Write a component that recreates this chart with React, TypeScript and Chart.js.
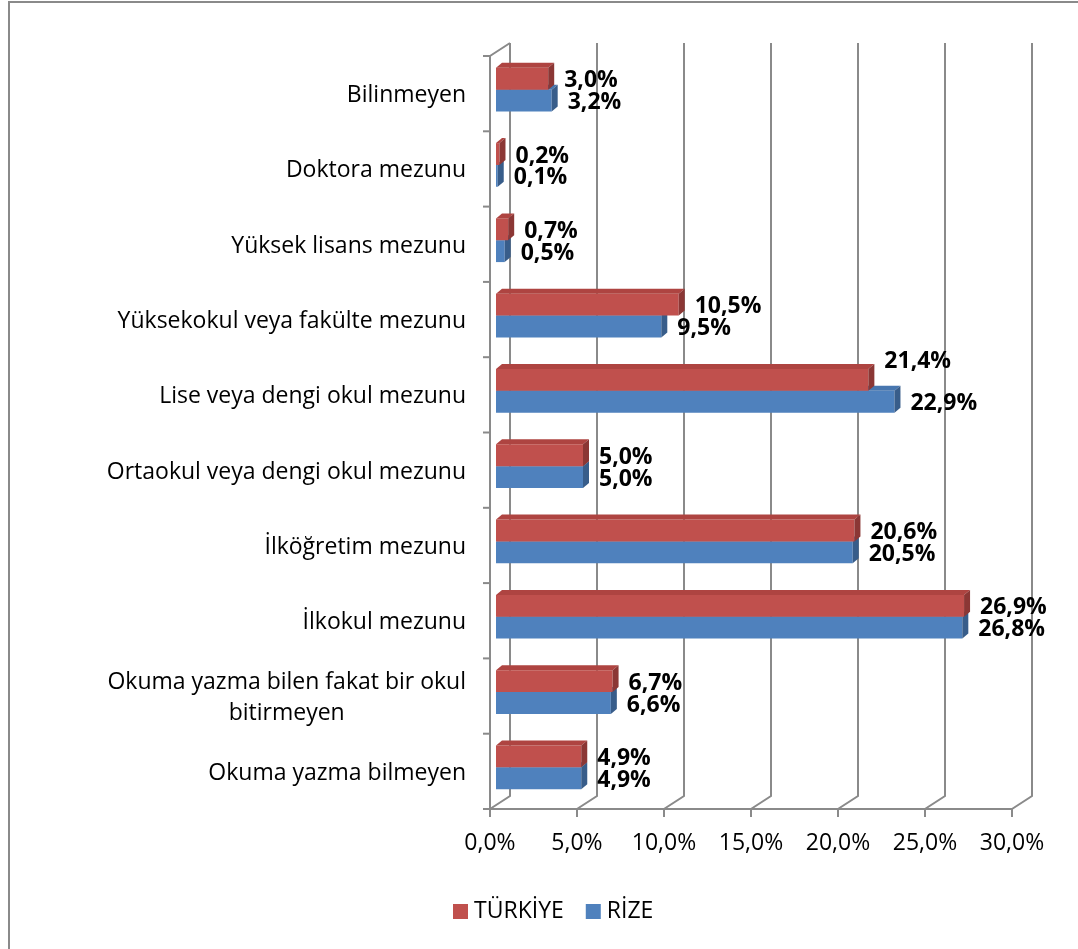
import React, { useEffect, useRef } from "react";
import { Chart, registerables } from "chart.js";

Chart.register(...registerables);

const categories: (string | string[])[] = [
  "Bilinmeyen",
  "Doktora mezunu",
  "Yüksek lisans mezunu",
  "Yüksekokul veya fakülte mezunu",
  "Lise veya dengi okul mezunu",
  "Ortaokul veya dengi okul mezunu",
  "İlköğretim mezunu",
  "İlkokul mezunu",
  ["Okuma yazma bilen fakat bir okul", "bitirmeyen"],
  "Okuma yazma bilmeyen",
];

const seriesNames = ["TÜRKİYE", "RİZE"];
const turkiyeValues = [3.0, 0.2, 0.7, 10.5, 21.4, 5.0, 20.6, 26.9, 6.7, 4.9];
const rizeValues = [3.2, 0.1, 0.5, 9.5, 22.9, 5.0, 20.5, 26.8, 6.6, 4.9];
const xTickValues = [0, 5, 10, 15, 20, 25, 30];

const W = 1078;
const H = 949;

const FRONT = { dx: -6, dy: 4 };
const BACK = { dx: 14, dy: -9 };
const FACE = { dx: 6, dy: -5 };

const COLORS = {
  red: { front: "#C0504D", top: "#AE4441", side: "#8B3735" },
  blue: { front: "#4F81BD", top: "#4776AF", side: "#385D8A" },
};
const faceColors = [COLORS.red, COLORS.blue];

const GRID = "#8a8a8a";
const FONT_REG = '23px "Open Sans"';
const FONT_BOLD = 'bold 23px "Open Sans"';
const FONT_LEGEND = '23px "Open Sans"';

const fmt = (v: number) => v.toFixed(1).replace(".", ",") + "%";

const decorPlugin = {
  id: "decor3d",
  beforeDatasetsDraw(chart: any) {
    const ctx = chart.ctx as CanvasRenderingContext2D;
    const { left: L, top: T, bottom: B } = chart.chartArea;
    const xs = chart.scales.x;
    const ys = chart.scales.y;
    ctx.save();
    // outer border (left and top)
    ctx.fillStyle = "#8a8a8a";
    ctx.fillRect(8, 1, 2, H);
    ctx.fillRect(8, 1, W - 8, 2);

    ctx.strokeStyle = GRID;
    ctx.lineWidth = 2;
    // back wall gridlines + floor diagonals + front ticks
    xTickValues.forEach((v) => {
      const px = xs.getPixelForValue(v);
      ctx.beginPath();
      ctx.moveTo(px + BACK.dx, T + BACK.dy);
      ctx.lineTo(px + BACK.dx, B + BACK.dy);
      ctx.lineTo(px + FRONT.dx, B + FRONT.dy);
      ctx.lineTo(px + FRONT.dx, B + FRONT.dy + 8);
      ctx.stroke();
    });
    // front x axis line
    ctx.beginPath();
    ctx.moveTo(xs.getPixelForValue(0) + FRONT.dx, B + FRONT.dy);
    ctx.lineTo(xs.getPixelForValue(30) + FRONT.dx, B + FRONT.dy);
    ctx.stroke();
    // left axis + top diagonal
    ctx.beginPath();
    ctx.moveTo(L + BACK.dx, T + BACK.dy);
    ctx.lineTo(L + FRONT.dx, T + FRONT.dy);
    ctx.lineTo(L + FRONT.dx, B + FRONT.dy);
    ctx.stroke();
    // category boundary ticks
    const n = categories.length;
    const band = (B - T) / n;
    for (let i = 0; i <= n; i++) {
      const y = T + band * i + FRONT.dy;
      ctx.beginPath();
      ctx.moveTo(L + FRONT.dx - 7, y);
      ctx.lineTo(L + FRONT.dx, y);
      ctx.stroke();
    }

    // x tick labels
    ctx.fillStyle = "#000";
    ctx.font = FONT_REG;
    ctx.textAlign = "center";
    ctx.textBaseline = "middle";
    xTickValues.forEach((v) => {
      const px = xs.getPixelForValue(v) + FRONT.dx;
      ctx.fillText(fmt(v), px, B + FRONT.dy + 34);
    });

    // category labels
    const rightX = L + FRONT.dx - 24;
    categories.forEach((lab, i) => {
      const cy = ys.getPixelForValue(i) + FRONT.dy + 2;
      if (Array.isArray(lab)) {
        const lh = 31;
        const maxW = Math.max(...lab.map((s) => ctx.measureText(s).width));
        ctx.textAlign = "center";
        lab.forEach((s, k) => {
          const y = cy + (k - (lab.length - 1) / 2) * lh;
          ctx.fillText(s, rightX - maxW / 2, y);
        });
      } else {
        ctx.textAlign = "right";
        ctx.fillText(lab, rightX, cy);
      }
    });

    // legend
    ctx.font = FONT_LEGEND;
    ctx.textAlign = "left";
    let lx = 453;
    const ly = 911;
    chart.data.datasets.forEach((ds: any, i: number) => {
      ctx.fillStyle = faceColors[i].front;
      ctx.fillRect(lx, ly - 7, 15, 15);
      ctx.fillStyle = "#000";
      ctx.fillText(ds.label, lx + 21, ly);
      lx += 21 + ctx.measureText(ds.label).width + 22;
    });
    ctx.restore();
  },
  afterDatasetDraw(chart: any, args: any) {
    const ctx = chart.ctx as CanvasRenderingContext2D;
    const meta = args.meta;
    const col = faceColors[args.index];
    ctx.save();
    meta.data.forEach((el: any) => {
      const x0 = el.base;
      const x1 = el.x;
      const yT = el.y - el.height / 2;
      const yB = el.y + el.height / 2;
      // top face
      ctx.fillStyle = col.top;
      ctx.beginPath();
      ctx.moveTo(x0, yT);
      ctx.lineTo(x0 + FACE.dx, yT + FACE.dy);
      ctx.lineTo(x1 + FACE.dx, yT + FACE.dy);
      ctx.lineTo(x1, yT);
      ctx.closePath();
      ctx.fill();
      // side face
      ctx.fillStyle = col.side;
      ctx.beginPath();
      ctx.moveTo(x1, yT);
      ctx.lineTo(x1 + FACE.dx, yT + FACE.dy);
      ctx.lineTo(x1 + FACE.dx, yB + FACE.dy);
      ctx.lineTo(x1, yB);
      ctx.closePath();
      ctx.fill();
    });
    ctx.restore();
  },
  afterDatasetsDraw(chart: any) {
    const ctx = chart.ctx as CanvasRenderingContext2D;
    const m1 = chart.getDatasetMeta(1);
    ctx.save();
    ctx.font = FONT_BOLD;
    ctx.fillStyle = "#000";
    ctx.textAlign = "left";
    ctx.textBaseline = "middle";
    chart.data.datasets.forEach((ds: any, di: number) => {
      const meta = chart.getDatasetMeta(di);
      meta.data.forEach((el: any, i: number) => {
        const lx = el.x + FACE.dx + 10;
        let ly = el.y + 2;
        if (di === 0) {
          const other = m1.data[i];
          if (other && other.x + FACE.dx + 2 > lx) ly = el.y - 18;
        }
        ctx.fillText(fmt(ds.data[i]), lx, ly);
      });
    });
    ctx.restore();
  },
};

export default function App() {
  const ref = useRef<HTMLCanvasElement | null>(null);
  useEffect(() => {
    if (!ref.current) return;
    const chart = new Chart(ref.current, {
      type: "bar",
      data: {
        labels: categories as any,
        datasets: [
          {
            label: seriesNames[0],
            data: turkiyeValues,
            backgroundColor: COLORS.red.front,
            borderWidth: 0,
            categoryPercentage: 0.58,
            barPercentage: 1,
          },
          {
            label: seriesNames[1],
            data: rizeValues,
            backgroundColor: COLORS.blue.front,
            borderWidth: 0,
            categoryPercentage: 0.58,
            barPercentage: 1,
          },
        ],
      },
      options: {
        indexAxis: "y",
        animation: false,
        responsive: false,
        maintainAspectRatio: false,
        devicePixelRatio: 1,
        layout: { padding: { left: 496, right: W - 1018, top: 52, bottom: H - 805 } },
        scales: {
          x: { type: "linear", min: 0, max: 30, display: false },
          y: { type: "category", display: false, offset: true },
        },
        plugins: {
          legend: { display: false },
          tooltip: { enabled: false },
          title: { display: false },
        },
      },
      plugins: [decorPlugin],
    });
    return () => chart.destroy();
  }, []);
  return (
    <div style={{ position: "fixed", left: 0, top: 0, width: W, height: H, background: "#fff" }}>
      <canvas ref={ref} width={W} height={H} style={{ display: "block", width: W, height: H }} />
    </div>
  );
}
